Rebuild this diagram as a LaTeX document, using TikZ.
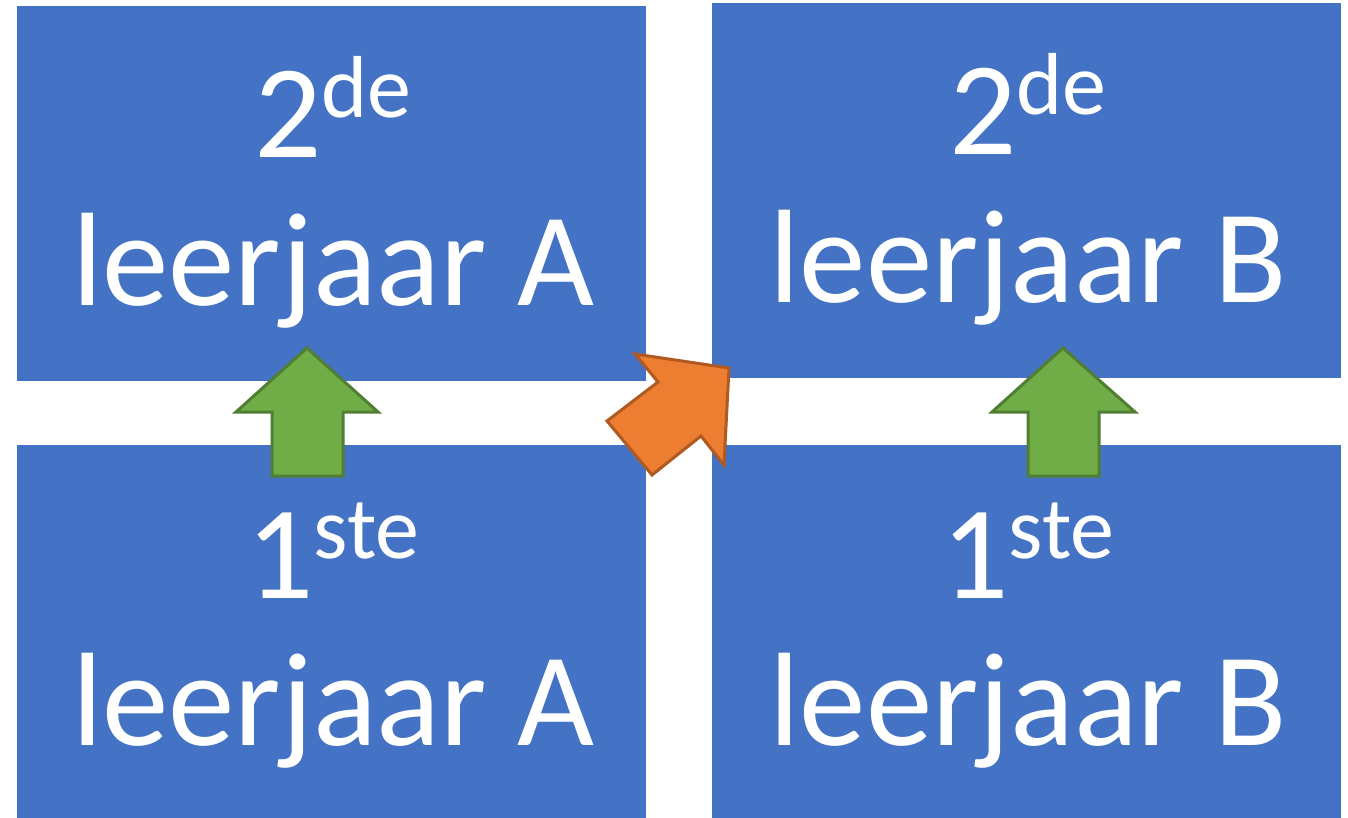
\documentclass[tikz,border=0pt]{standalone}
\usepackage{fontspec}
\setmainfont{Carlito}
\definecolor{boxblue}{HTML}{4472C4}
\definecolor{grfill}{HTML}{70AD47}
\definecolor{grline}{HTML}{507E32}
\definecolor{orfill}{HTML}{ED7D31}
\definecolor{orline}{HTML}{AE5A21}
\tikzset{
  blockbox/.style={fill=boxblue, draw=none},
  bigtext/.style={text=white, anchor=base, inner sep=0pt, font=\fontsize{66.5}{80}\selectfont},
  greenarrow/.style={fill=grfill, draw=grline, line width=1.5pt, line join=miter},
  orangearrow/.style={fill=orfill, draw=orline, line width=1.5pt, line join=miter}
}
\newcommand{\supx}[1]{\raisebox{20pt}{\fontsize{44}{50}\selectfont #1}}
\begin{document}
\begin{tikzpicture}[x=0.5pt,y=-0.5pt]
\useasboundingbox (0,0) rectangle (1348,818);
% boxes
\path[blockbox] (17,6) rectangle (646,381);
\path[blockbox] (17,445) rectangle (646,818);
\path[blockbox] (712,3) rectangle (1341,378);
\path[blockbox] (712,445) rectangle (1341,818);
% texts
\node[bigtext] (a2t) at (333,158) {2\supx{de}};
\node[bigtext] (a2b) at (333,305) {leerjaar A};
\node[bigtext] (b2t) at (1028,155) {2\supx{de}};
\node[bigtext] (b2b) at (1028,302) {leerjaar B};
\node[bigtext] (a1t) at (333,598) {1\supx{ste}};
\node[bigtext] (a1b) at (333,745) {leerjaar A};
\node[bigtext] (b1t) at (1028,598) {1\supx{ste}};
\node[bigtext] (b1b) at (1028,745) {leerjaar B};
% green arrows
\draw[greenarrow] (307,348) -- (378,412) -- (343,412) -- (343,476) -- (272,476) -- (272,412) -- (236,412) -- cycle;
\draw[greenarrow] (1063,348) -- (1135,412) -- (1099,412) -- (1099,476) -- (1028,476) -- (1028,412) -- (992,412) -- cycle;
% orange arrow
\draw[orangearrow] (635,354) -- (729,368) -- (724,465) -- (701,436) -- (652,475) -- (607,421) -- (658,382) -- cycle;
\end{tikzpicture}
\end{document}
